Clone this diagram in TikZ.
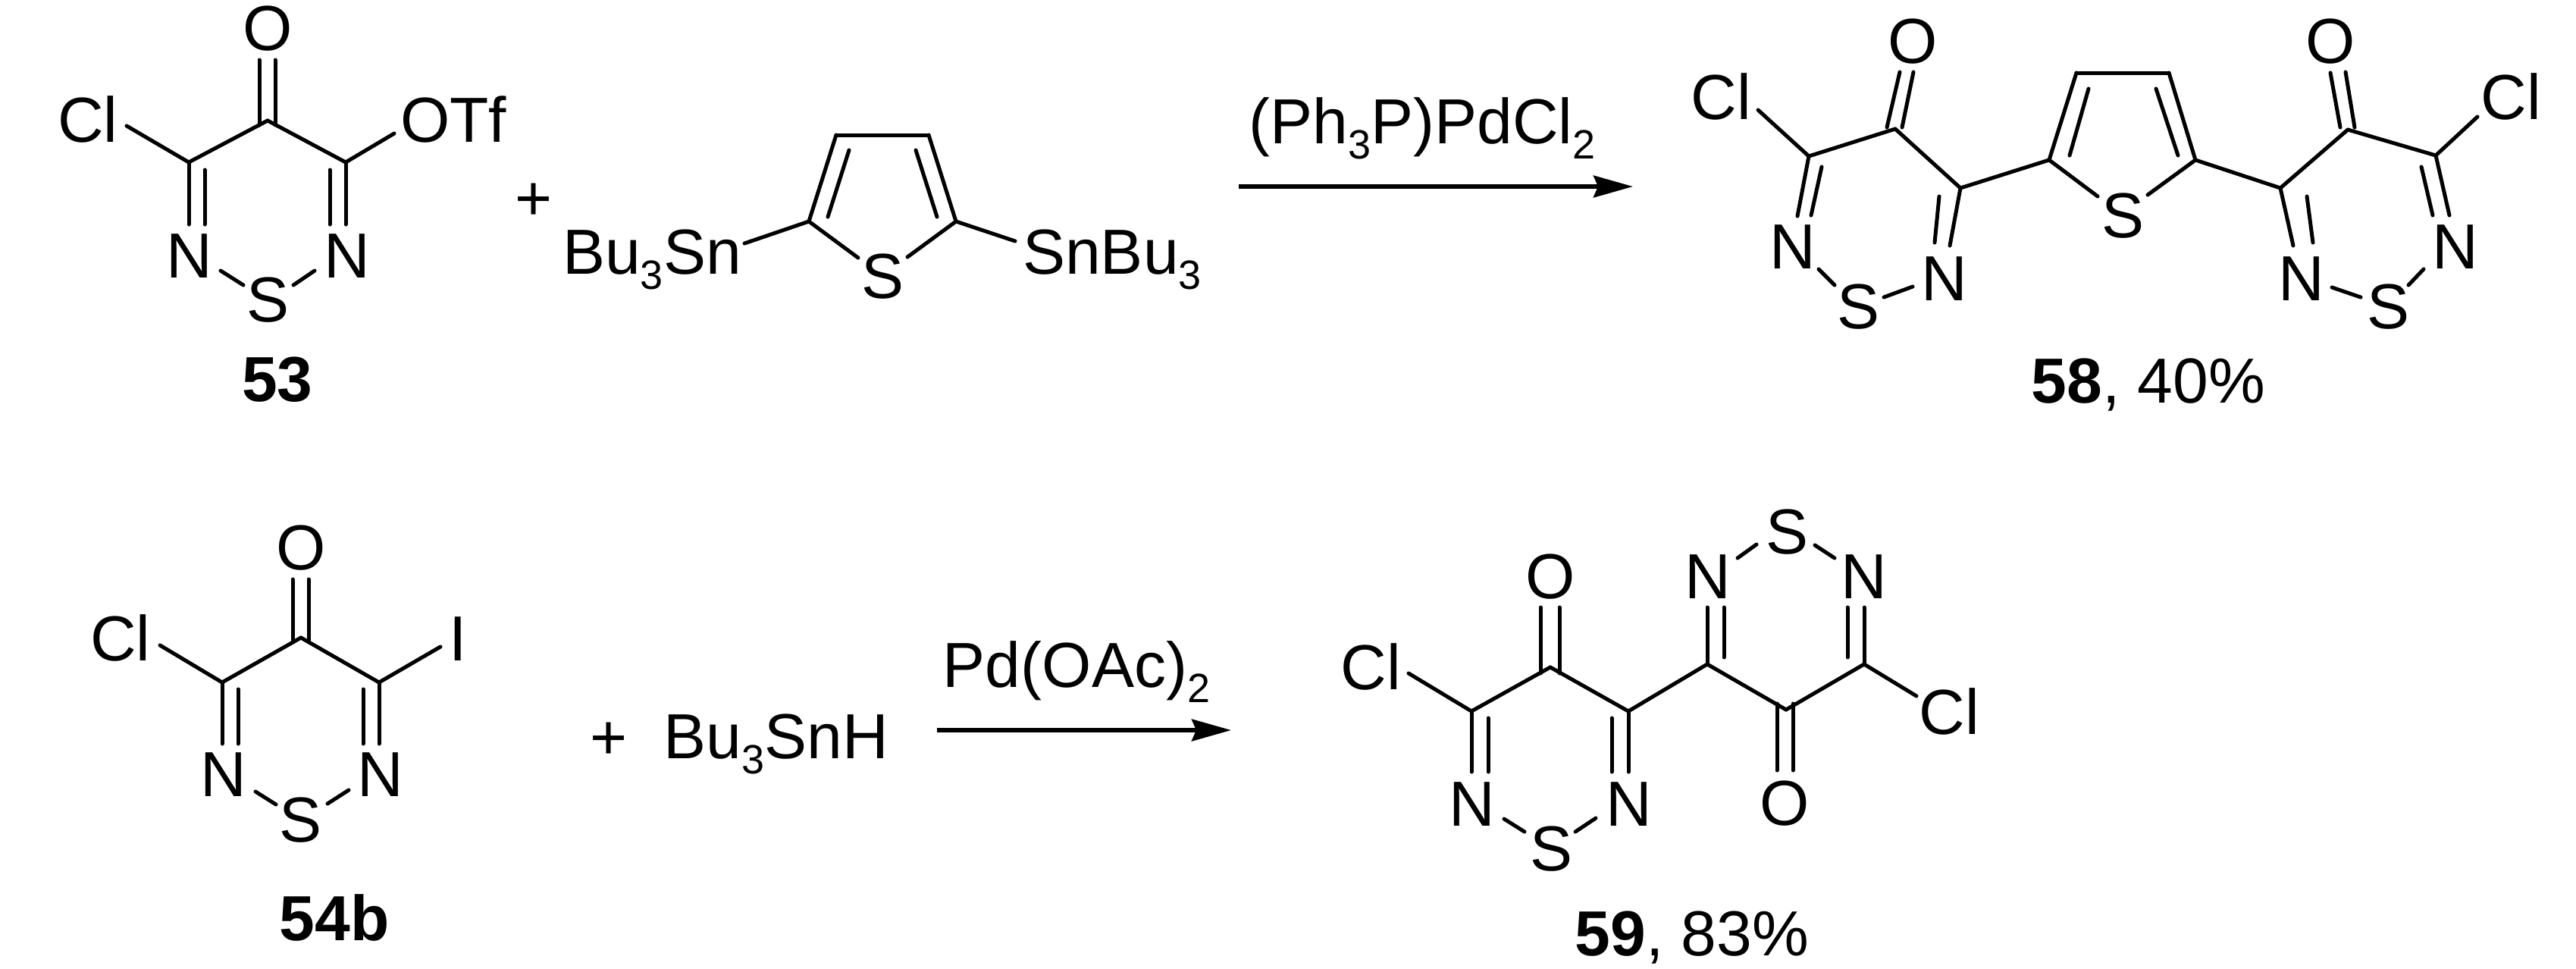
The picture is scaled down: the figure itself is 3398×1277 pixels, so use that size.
\documentclass[tikz,border=0pt]{standalone}
\usepackage{fontspec}
\setmainfont{Liberation Sans}
\usetikzlibrary{arrows.meta}
\newcommand{\chemsub}[1]{\raisebox{-5pt}{\fontsize{13.5}{15}\selectfont #1}}
\tikzset{
  atom/.style={anchor=base, inner sep=0pt, font=\fontsize{21}{25}\selectfont},
  bond/.style={line width=1.25pt, line cap=round, line join=round},
  rxnarrow/.style={line width=1.35pt, -{Stealth[length=13pt, width=7.2pt, inset=1.5pt]}}
}

\begin{document}
\begin{tikzpicture}[x=0.25pt, y=-0.25pt]
  \useasboundingbox (0,0) rectangle (3398,1277);

  % Triflate 53
  \foreach \n/\x/\y in {a1/353/159, a2/249/214, a3/456/214, a4/342/79, a5/342/165, a6/363/79, a7/363/165,
      a8/167/166, a9/520/176, a10/249/296, a11/270/224, a12/270/296, a13/456/296, a14/435/224, a15/435/296,
      a16/291/357, a17/321/376, a18/415/357, a19/387/376}
    \coordinate (\n) at (\x,\y);
  \foreach \p/\q in {a1/a2, a1/a3, a4/a5, a6/a7, a2/a8, a3/a9, a2/a10, a11/a12, a3/a13, a14/a15, a16/a17, a18/a19}
    \draw[bond] (\p) -- (\q);
  \node[atom] (aO) at (353,66) {O};
  \node[atom] (aCl) at (116,187) {Cl};
  \node[atom] (aOTf) at (598,187) {OTf};
  \node[atom] (aNl) at (250,366) {N};
  \node[atom] (aNr) at (458,366) {N};
  \node[atom] (aS) at (354,424) {S};
  \node[atom] (aname) at (366,529) {\textbf{53}};
  \node[atom] (plusa) at (704,290) {+};

  % Distannyl thiophene
  \foreach \n/\x/\y in {t1/1103/178, t2/1225/178, t3/1067/292, t4/1261/292, t5/1132/340, t6/1197/339,
      t7/1092/286, t8/1120/198, t9/1236/286, t10/1208/198, t11/982/321, t12/1339/318}
    \coordinate (\n) at (\x,\y);
  \foreach \p/\q in {t1/t2, t1/t3, t2/t4, t3/t5, t4/t6, t7/t8, t9/t10, t3/t11, t4/t12}
    \draw[bond] (\p) -- (\q);
  \node[atom] (tS) at (1165,393) {S};
  \node[atom] (tSnl) at (860,361) {Bu\chemsub{3}Sn};
  \node[atom] (tSnr) at (1467,361) {SnBu\chemsub{3}};

  % First reaction arrow
  \coordinate (rxna) at (1634,246);
  \coordinate (rxnb) at (2154,246);
  \draw[rxnarrow] (rxna) -- (rxnb);
  \node[atom] (cata) at (1876,189) {(Ph\chemsub{3}P)PdCl\chemsub{2}};

  % Product 58
  \foreach \n/\x/\y in {l1/2500/170, l2/2386/206, l3/2586/248, l4/2489/168, l5/2506/95, l6/2509/168, l7/2524/95,
      l8/2319/145, l9/2371/285, l10/2403/220, l11/2389/284, l12/2399/355, l13/2420/376, l14/2485/392, l15/2523/378,
      l16/2572/324, l17/2558/259, l18/2552/320,
      m1/2703/211, m2/2739/96, m3/2861/96, m4/2896/211, m5/2767/259, m6/2833/257, m7/2730/205, m8/2755/117,
      m9/2873/205, m10/2844/117,
      r1/3097/171, r2/3213/205, r3/3008/248, r4/3087/168, r5/3074/96, r6/3106/168, r7/3094/95,
      r8/3268/154, r9/3231/284, r10/3194/220, r11/3209/284, r12/3197/355, r13/3177/376, r14/3076/379, r15/3114/392,
      r16/3025/324, r17/3043/259, r18/3051/320}
    \coordinate (\n) at (\x,\y);
  \foreach \p/\q in {l1/l2, l1/l3, l4/l5, l6/l7, l2/l8, l2/l9, l10/l11, l12/l13, l14/l15, l3/l16, l17/l18, l3/m1,
      m1/m2, m2/m3, m3/m4, m1/m5, m4/m6, m7/m8, m9/m10, m4/r3,
      r1/r2, r1/r3, r4/r5, r6/r7, r2/r8, r2/r9, r10/r11, r12/r13, r14/r15, r3/r16, r17/r18}
    \draw[bond] (\p) -- (\q);
  \node[atom] (lO) at (2523,83) {O};
  \node[atom] (rO) at (3074,83) {O};
  \node[atom] (lCl) at (2270,157) {Cl};
  \node[atom] (rCl) at (3312,157) {Cl};
  \node[atom] (lNa) at (2365,354) {N};
  \node[atom] (lNb) at (2565,396) {N};
  \node[atom] (lS) at (2451,433) {S};
  \node[atom] (mS) at (2800,313) {S};
  \node[atom] (rNa) at (3239,354) {N};
  \node[atom] (rNb) at (3036,396) {N};
  \node[atom] (rS) at (3150,433) {S};
  \node[atom] (lname) at (2834,531) {\textbf{58}, 40\%};

  % Iodide 54b
  \foreach \n/\x/\y in {b1/397/841, b2/293/900, b3/500/900, b4/386/764, b5/386/847, b6/407/764, b7/407/847,
      b8/211/851, b9/581/853, b10/293/981, b11/314/909, b12/314/981, b13/500/981, b14/479/909, b15/479/981,
      b16/337/1044, b17/364/1061, b18/460/1042, b19/432/1060}
    \coordinate (\n) at (\x,\y);
  \foreach \p/\q in {b1/b2, b1/b3, b4/b5, b6/b7, b2/b8, b3/b9, b2/b10, b11/b12, b3/b13, b14/b15, b16/b17, b18/b19}
    \draw[bond] (\p) -- (\q);
  \node[atom] (bO) at (397,751) {O};
  \node[atom] (bCl) at (159,871) {Cl};
  \node[atom] (bI) at (604,871) {I};
  \node[atom] (bNl) at (295,1050) {N};
  \node[atom] (bNr) at (502,1050) {N};
  \node[atom] (bS) at (397,1110) {S};
  \node[atom] (bname) at (441,1240) {\textbf{54b}};
  \node[atom] (plusb) at (803,1001) {+};
  \node[atom] (stan) at (1024,1000) {Bu\chemsub{3}SnH};

  % Second reaction arrow
  \coordinate (rxnc) at (1236,963);
  \coordinate (rxnd) at (1624,963);
  \draw[rxnarrow] (rxnc) -- (rxnd);
  \node[atom] (catb) at (1420,906) {Pd(OAc)\chemsub{2}};

  % Product 59
  \foreach \n/\x/\y in {p1/2045/880, p2/1941/938, p3/2148/938, p4/2032/801, p5/2032/888, p6/2057/801, p7/2057/888,
      p8/1858/888, p9/1941/1018, p10/1963/947, p11/1963/1018, p12/2148/1018, p13/2126/947, p14/2126/1018,
      p15/1984/1080, p16/2011/1097, p17/2105/1079, p18/2078/1097,
      q1/2252/876, q2/2356/936, q3/2459/876, q4/2252/801, q5/2274/867, q6/2274/801, q7/2459/801, q8/2437/867,
      q9/2437/801, q10/2317/718, q11/2292/736, q12/2394/719, q13/2420/736, q14/2344/928, q15/2344/1016,
      q16/2365/928, q17/2365/1016, q18/2528/918}
    \coordinate (\n) at (\x,\y);
  \foreach \p/\q in {p1/p2, p1/p3, p4/p5, p6/p7, p2/p8, p2/p9, p10/p11, p3/p12, p13/p14, p15/p16, p17/p18, p3/q1,
      q1/q2, q2/q3, q1/q4, q5/q6, q3/q7, q8/q9, q10/q11, q12/q13, q14/q15, q16/q17, q3/q18}
    \draw[bond] (\p) -- (\q);
  \node[atom] (pO) at (2045,789) {O};
  \node[atom] (pCl) at (1808,909) {Cl};
  \node[atom] (pNl) at (1942,1089) {N};
  \node[atom] (pNr) at (2149,1089) {N};
  \node[atom] (pS) at (2046,1148) {S};
  \node[atom] (qNl) at (2253,789) {N};
  \node[atom] (qNr) at (2459,789) {N};
  \node[atom] (qS) at (2357,730) {S};
  \node[atom] (qO) at (2354,1088) {O};
  \node[atom] (qCl) at (2571,968) {Cl};
  \node[atom] (pname) at (2232,1260) {\textbf{59}, 83\%};
\end{tikzpicture}
\end{document}
